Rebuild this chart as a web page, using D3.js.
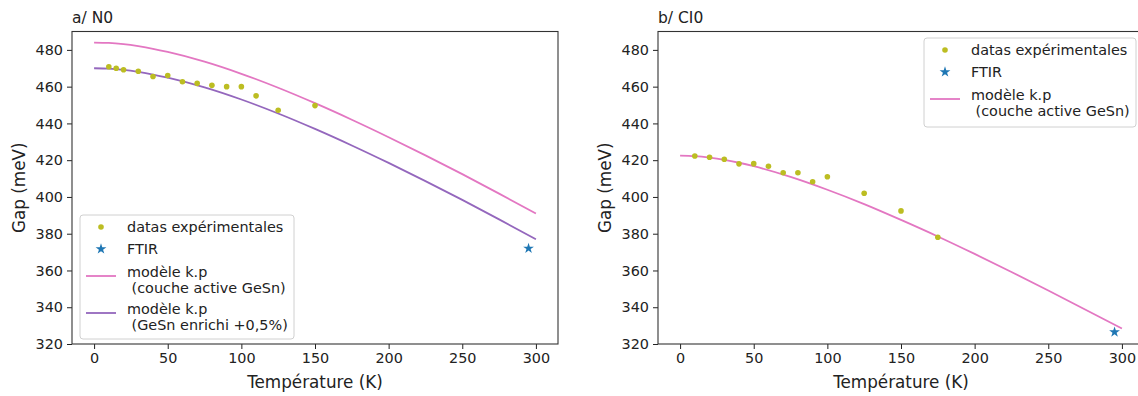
<!DOCTYPE html>
<html>
<head>
<meta charset="utf-8">
<script src="https://cdn.jsdelivr.net/npm/d3@7"></script>
<style>
  html, body { margin: 0; padding: 0; background: #fff; }
  svg { display: block; font-family: "DejaVu Sans", sans-serif; }
</style>
</head>
<body>
<svg id="chart" width="1138" height="396"></svg>
<script>
// ---------------- data ----------------
const xTicks = [0, 50, 100, 150, 200, 250, 300];
const yTicks = [320, 340, 360, 380, 400, 420, 440, 460, 480];
const xDomain = [-15, 315];
const yDomain = [320, 490];

// k.p model curves
const modelT     = [0, 10, 20, 30, 40, 50, 75, 100, 125, 150, 175, 200, 225, 250, 275, 300];
const n0Active   = [484.0, 483.8, 483.1, 482.0, 480.6, 478.9, 473.6, 467.0, 459.4, 451.0, 442.0, 432.5, 422.6, 412.4, 401.8, 391.0];
const n0Enriched = [470.0, 469.8, 469.1, 468.0, 466.6, 464.9, 459.6, 453.0, 445.4, 437.0, 428.0, 418.5, 408.6, 398.4, 387.8, 377.0];
const ci0Active  = [422.5, 422.2, 421.4, 420.2, 418.6, 416.7, 410.9, 403.9, 396.1, 387.5, 378.5, 369.0, 359.2, 349.1, 338.8, 328.4];

// experimental data
const n0ExpT   = [10, 15, 20, 30, 40, 50, 60, 70, 80, 90, 100, 110, 125, 150];
const n0ExpGap = [470.8, 470.0, 469.2, 468.4, 465.5, 466.0, 462.7, 461.8, 460.7, 460.0, 460.0, 455.0, 447.2, 449.7];
const ci0ExpT   = [10, 20, 30, 40, 50, 60, 70, 80, 90, 100, 125, 150, 175];
const ci0ExpGap = [422.3, 421.6, 420.5, 418.0, 418.1, 416.7, 413.2, 413.2, 408.3, 411.0, 402.0, 392.4, 378.1];

// FTIR
const n0FtirT = [295], n0FtirGap = [372];
const ci0FtirT = [295], ci0FtirGap = [326.5];

// labels
const titles = ["a/ N0", "b/ CI0"];
const xLabel = "Température (K)";
const yLabel = "Gap (meV)";
const legExp = "datas expérimentales";
const legFtir = "FTIR";
const legActive = ["modèle k.p", " (couche active GeSn)"];
const legEnriched = ["modèle k.p", " (GeSn enrichi +0,5%)"];

// colours
const cOlive = "#bcbd22", cPink = "#e377c2", cPurple = "#9467bd", cBlue = "#1f77b4";

// ---------------- drawing ----------------
const svg = d3.select("#chart");
const yTop = 31.5, yBottom = 344;
const fs = "14.4px";

function panel(cfg) {
  const x = d3.scaleLinear().domain(xDomain).range([cfg.left, cfg.right]);
  const y = d3.scaleLinear().domain(yDomain).range([yBottom, yTop]);
  const g = svg.append("g");

  // curves
  const line = d3.line().x(d => x(d[0])).y(d => y(d[1])).curve(d3.curveMonotoneX);
  cfg.curves.forEach(c => {
    g.append("path")
      .datum(modelT.map((t, i) => [t, c.values[i]]))
      .attr("d", line).attr("fill", "none")
      .attr("stroke", c.color).attr("stroke-width", 1.8);
  });

  // experimental points
  g.selectAll("circle.exp").data(cfg.expT.map((t, i) => [t, cfg.expGap[i]]))
    .join("circle").attr("class", "exp")
    .attr("cx", d => x(d[0])).attr("cy", d => y(d[1])).attr("r", 2.8)
    .attr("fill", cOlive);

  // FTIR stars
  const star = d3.symbol().type(d3.symbolStar).size(36);
  g.selectAll("path.ftir").data(cfg.ftirT.map((t, i) => [t, cfg.ftirGap[i]]))
    .join("path").attr("class", "ftir")
    .attr("d", star)
    .attr("transform", d => `translate(${x(d[0])},${y(d[1])})`)
    .attr("fill", cBlue);

  // axes
  const xa = g.append("g").attr("transform", `translate(0,${yBottom})`)
    .call(d3.axisBottom(x).tickValues(xTicks).tickSize(5).tickPadding(4));
  const ya = g.append("g").attr("transform", `translate(${cfg.left},0)`)
    .call(d3.axisLeft(y).tickValues(yTicks).tickSize(5).tickPadding(4));
  [xa, ya].forEach(a => {
    a.select(".domain").remove();
    a.selectAll("line").attr("stroke", "#222").attr("stroke-width", 1);
    a.selectAll("text").attr("fill", "#222").style("font-size", fs)
      .style("font-family", "DejaVu Sans, sans-serif");
  });

  // frame
  g.append("rect").attr("x", cfg.left).attr("y", yTop)
    .attr("width", cfg.right - cfg.left).attr("height", yBottom - yTop)
    .attr("fill", "none").attr("stroke", "#333").attr("stroke-width", 1.1);

  // title
  g.append("text").attr("x", cfg.left).attr("y", 23).text(cfg.title)
    .style("font-size", "15.5px").attr("fill", "#222");

  // axis labels
  g.append("text").attr("x", x(150)).attr("y", 388).attr("text-anchor", "middle")
    .style("font-size", "16.8px").attr("fill", "#222").text(xLabel);
  g.append("text").attr("transform", `translate(${cfg.left - 47},${(yTop + yBottom) / 2}) rotate(-90)`)
    .attr("text-anchor", "middle").style("font-size", "16.8px").attr("fill", "#222").text(yLabel);

  // legend
  const L = cfg.legend;
  const lg = g.append("g");
  lg.append("rect").attr("x", L.x).attr("y", L.y).attr("width", L.w).attr("height", L.h)
    .attr("rx", 3).attr("fill", "#fff").attr("fill-opacity", 0.85)
    .attr("stroke", "#d0d0d0").attr("stroke-width", 1);
  const hx = L.x + 6, hw = 30, tx = L.x + 47;
  let cy = L.y + 12;
  lg.append("circle").attr("cx", hx + hw / 2).attr("cy", cy).attr("r", 2.8).attr("fill", cOlive);
  lg.append("text").attr("x", tx).attr("y", cy + 5).text(legExp).style("font-size", fs).attr("fill", "#222");
  cy += 22;
  lg.append("path").attr("d", star).attr("transform", `translate(${hx + hw / 2},${cy})`).attr("fill", cBlue);
  lg.append("text").attr("x", tx).attr("y", cy + 5).text(legFtir).style("font-size", fs).attr("fill", "#222");
  cy += 15;
  L.lines.forEach(item => {
    const t1 = cy + 8, t2 = cy + 24;
    lg.append("line").attr("x1", hx).attr("x2", hx + hw)
      .attr("y1", (t1 + t2) / 2 - 4).attr("y2", (t1 + t2) / 2 - 4)
      .attr("stroke", item.color).attr("stroke-width", 1.8);
    lg.append("text").attr("x", tx).attr("y", t1 + 5).text(item.text[0]).style("font-size", fs).attr("fill", "#222");
    lg.append("text").attr("x", tx).attr("y", t2 + 5)
      .style("white-space", "pre").text(item.text[1]).style("font-size", fs).attr("fill", "#222");
    cy += 37;
  });
}

panel({
  left: 72, right: 558, title: titles[0],
  curves: [{ values: n0Active, color: cPink }, { values: n0Enriched, color: cPurple }],
  expT: n0ExpT, expGap: n0ExpGap, ftirT: n0FtirT, ftirGap: n0FtirGap,
  legend: { x: 80, y: 215, w: 214, h: 124,
    lines: [{ color: cPink, text: legActive }, { color: cPurple, text: legEnriched }] }
});

panel({
  left: 658, right: 1144, title: titles[1],
  curves: [{ values: ci0Active, color: cPink }],
  expT: ci0ExpT, expGap: ci0ExpGap, ftirT: ci0FtirT, ftirGap: ci0FtirGap,
  legend: { x: 924, y: 38, w: 212, h: 89,
    lines: [{ color: cPink, text: legActive }] }
});
</script>
</body>
</html>
